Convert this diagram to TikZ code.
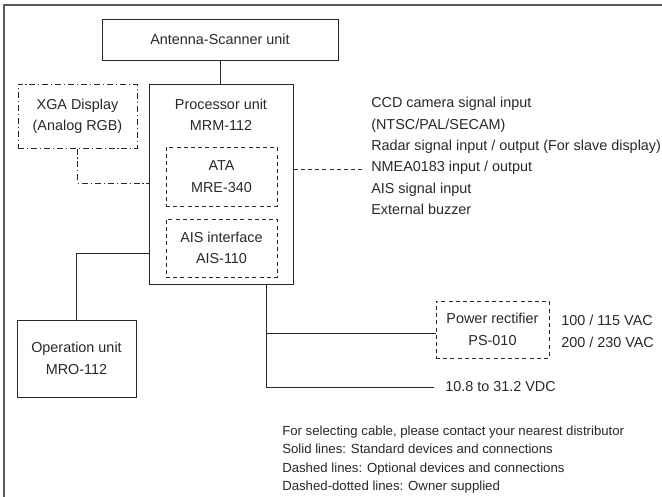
\documentclass[tikz,border=0pt]{standalone}
\usepackage{fontspec}
\setmainfont{Liberation Sans}
\usepackage{tikz}
\usetikzlibrary{calc}
\definecolor{ink}{RGB}{40,40,40}

\begin{document}
\begin{tikzpicture}[x=0.75pt,y=0.75pt,yscale=-1,xscale=1,
	every node/.style={text=ink,font=\fontsize{10.8}{16}\selectfont},
	conn/.style={draw=ink,line width=0.75pt},
	unitbox/.style={conn,rectangle,align=center},
	optline/.style={conn,dash pattern=on 3pt off 2.4pt},
	optbox/.style={unitbox,dash pattern=on 3pt off 2.4pt},
	ownline/.style={conn,dash pattern=on 4.5pt off 2.2pt on 0.8pt off 2.2pt},
	ownbox/.style={unitbox,dash pattern=on 4.5pt off 2.2pt on 0.8pt off 2.2pt}]
	\useasboundingbox (0,0) rectangle (662,497);
	
	%Frame (only top and left edges are visible)
	\draw [color={rgb, 255:red, 90; green, 90; blue, 90 }, line width=1.1pt] (4,497) -- (4,5) -- (662,5) ;
	
	%Shape: Rectangle [antenna]
	\node [unitbox, minimum width=177pt, minimum height=30.75pt] (antenna) at (220,39.5) {Antenna-Scanner unit};
	%Shape: Rectangle [processor]
	\node [unitbox, minimum width=108pt, minimum height=150pt] (proc) at (221,184) {};
	\node [align=center] (proctext) at (221,115) {Processor unit\\MRM-112};
	%Shape: Rectangle [ATA, dashed]
	\node [optbox, minimum width=83.25pt, minimum height=44.25pt] (ata) at (221.5,176.5) {ATA\\MRE-340};
	%Shape: Rectangle [AIS interface, dashed]
	\node [optbox, minimum width=83.25pt, minimum height=43.5pt] (ais) at (221.5,248) {AIS interface\\AIS-110};
	%Shape: Rectangle [XGA display, dash-dotted]
	\node [ownbox, minimum width=89.25pt, minimum height=48pt] (xga) at (77.5,116) {XGA Display\\(Analog RGB)};
	%Shape: Rectangle [operation unit]
	\node [unitbox, minimum width=89.25pt, minimum height=57.75pt] (oper) at (76.5,358.5) {Operation unit\\MRO-112};
	%Shape: Rectangle [power rectifier, dashed]
	\node [optbox, minimum width=84.75pt, minimum height=42.75pt] (rect) at (492.5,329.5) {Power rectifier\\PS-010};
	
	% Text Node
	\node [anchor=west, inner sep=0pt, inner xsep=5.25pt, align=left] (signals) at (364,156) {CCD camera signal input\\(NTSC/PAL/SECAM)\\Radar signal input / output (For slave display)\\NMEA0183 input / output\\AIS signal input\\External buzzer};
	% Text Node
	\node [anchor=west, inner sep=0pt, align=left] (vac) at (561,331.5) {100 / 115 VAC\\200 / 230 VAC};
	% Text Node
	\node [anchor=west, inner sep=0pt, inner xsep=8.25pt] (vdc) at (434,387) {10.8 to 31.2 VDC};
	% Text Node
	\node [anchor=west, inner sep=0pt, align=left, font=\fontsize{9.9}{13.7}\selectfont] (notes) at (282,459.5) {For selecting cable, please contact your nearest distributor\\Solid lines: Standard devices and connections\\Dashed lines: Optional devices and connections\\Dashed-dotted lines: Owner supplied};
	
	\coordinate (pwrtap) at (266,333);
	\coordinate (pwrend) at (266,387);
	
	%Straight Lines
	\draw [conn] (antenna.south) -- (proc.north -| antenna.south) ;
	\draw [ownline] (xga.south) |- (proc.west |- 0,183) ;
	\draw [optline] (proc.east |- 0,169) -- (signals.west |- 0,169) ;
	\draw [conn] (proc.west |- 0,253) -| (oper.north) ;
	\draw [conn] (proc.south -| pwrend) -- (pwrend) -- (vdc.west |- pwrend) ;
	\draw [conn] (pwrtap) -- (rect.west |- pwrtap) ;
	
\end{tikzpicture}
\end{document}
